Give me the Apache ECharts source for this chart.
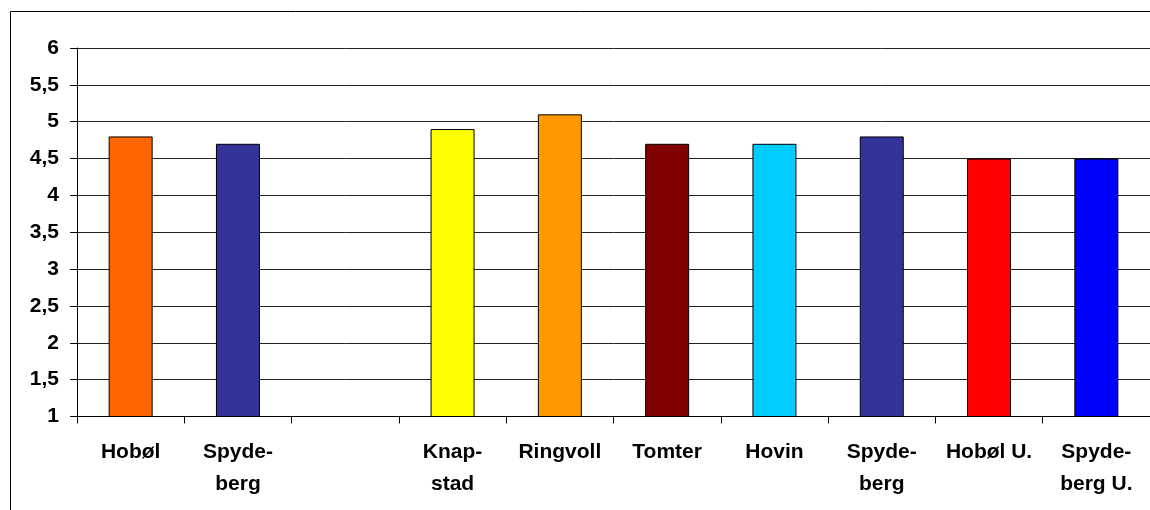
<!DOCTYPE html>
<html>
<head>
<meta charset="utf-8">
<script src="https://cdn.jsdelivr.net/npm/echarts@6/dist/echarts.min.js"></script>
<style>
  html, body { margin: 0; padding: 0; background: #fff; }
  #chart { width: 1150px; height: 510px; }
</style>
</head>
<body>
<div id="chart"></div>
<script>
// Stations along the x axis (third slot intentionally left blank)
const categories = ['Hobøl', 'Spyde-\nberg', '', 'Knap-\nstad', 'Ringvoll', 'Tomter', 'Hovin', 'Spyde-\nberg', 'Hobøl U.', 'Spyde-\nberg U.'];
// Measured values per station
const values = [4.8, 4.7, null, 4.9, 5.1, 4.7, 4.7, 4.8, 4.5, 4.5];
// Fill colour per bar
const barColors = ['#FF6600', '#333399', '#FFFFFF', '#FFFF00', '#FF9900', '#800000', '#00CCFF', '#333399', '#FF0000', '#0000FF'];
// Value axis range and step
const yMin = 1, yMax = 6, yStep = 0.5;

const chart = echarts.init(document.getElementById('chart'), null, { renderer: 'canvas' });
const font = '"Liberation Sans", Arial, sans-serif';

chart.setOption({
  animation: false,
  backgroundColor: '#fff',
  grid: { left: 77, top: 48, bottom: 93.5, width: 1075, containLabel: false },
  graphic: [{
    type: 'rect',
    z: -1,
    shape: { x: 10.5, y: 11.5, width: 2000, height: 1000 },
    style: { fill: 'none', stroke: '#000', lineWidth: 1 }
  }],
  xAxis: {
    type: 'category',
    data: categories,
    boundaryGap: true,
    axisLine: { lineStyle: { color: '#000', width: 1 } },
    axisTick: { show: true, alignWithLabel: false, interval: 0, length: 7, lineStyle: { color: '#000' } },
    axisLabel: {
      interval: 0, margin: 20, color: '#000', fontFamily: font,
      fontWeight: 'bold', fontSize: 21, lineHeight: 32, align: 'center'
    }
  },
  yAxis: {
    type: 'value',
    min: yMin, max: yMax, interval: yStep,
    axisLine: { show: true, lineStyle: { color: '#000', width: 1 } },
    axisTick: { show: true, length: 7, lineStyle: { color: '#000' } },
    axisLabel: {
      margin: 18, color: '#000', fontFamily: font, fontWeight: 'bold', fontSize: 21,
      formatter: v => String(v).replace('.', ',')
    },
    splitLine: { show: true, lineStyle: { color: '#222', width: 1 } }
  },
  series: [{
    type: 'bar',
    barWidth: 44,
    data: values.map((v, i) => ({
      value: v,
      itemStyle: { color: barColors[i], borderColor: '#000', borderWidth: 1 }
    }))
  }]
});
</script>
</body>
</html>
